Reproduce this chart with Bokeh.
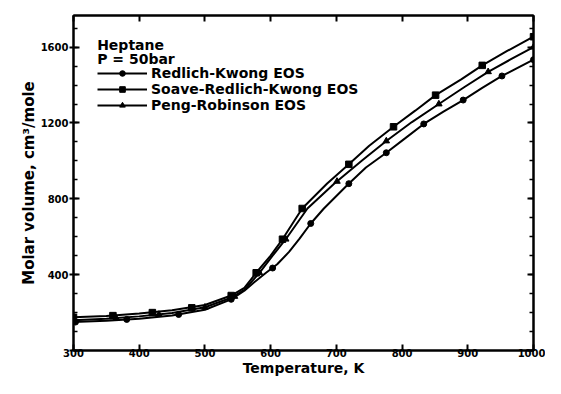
from bokeh.plotting import figure
from bokeh.models import (LinearAxis, SingleIntervalTicker, Range1d, Legend,
                          LegendItem, Label)
from bokeh.embed import file_html
from bokeh.resources import INLINE

# ---- data ----
# Soave-Redlich-Kwong (top curve at high T)
srk_T = [300, 350, 400, 450, 500, 540, 560, 578, 600, 618, 648, 686, 719, 750,
         787, 820, 851, 890, 922, 960, 1000]
srk_V = [175, 182, 195, 212, 240, 290, 330, 410, 500, 587, 749, 881, 982, 1080,
         1180, 1265, 1347, 1430, 1504, 1580, 1655]
srk_mT = [300, 360, 420, 480, 540, 578, 618, 648, 719, 787, 851, 922, 1000]
srk_mV = [175, 184, 200, 225, 290, 410, 587, 749, 982, 1180, 1347, 1504, 1655]

# Peng-Robinson (middle curve)
pr_T = [300, 350, 400, 450, 500, 540, 560, 583, 603, 623, 656, 697, 740, 776,
        815, 856, 895, 931, 965, 1000]
pr_V = [160, 168, 180, 198, 228, 278, 320, 410, 500, 587, 749, 881, 1005, 1105,
        1205, 1300, 1390, 1470, 1535, 1600]
pr_mT = [300, 365, 430, 500, 545, 583, 623, 701, 776, 856, 931, 1000]
pr_mV = [160, 170, 190, 228, 285, 410, 587, 892, 1105, 1300, 1470, 1600]

# Redlich-Kwong (lower curve at high T)
rk_T = [300, 350, 400, 450, 500, 540, 560, 575, 593, 610, 628, 644, 661, 681,
        716, 745, 776, 805, 833, 863, 893, 922, 952, 1000]
rk_V = [150, 157, 168, 185, 215, 270, 315, 360, 410, 455, 520, 590, 670, 749,
        870, 965, 1043, 1120, 1195, 1260, 1321, 1385, 1448, 1534]
rk_mT = [303, 381, 460, 540, 603, 661, 719, 776, 833, 893, 952, 1000]
rk_mV = [150, 164, 190, 270, 435, 670, 880, 1043, 1195, 1321, 1448, 1534]

x_ticks_interval = 100
y_ticks_interval = 400

FONT = "DejaVu Sans"

p = figure(width=545, height=378, output_backend="svg", toolbar_location=None,
           x_range=Range1d(300, 1000), y_range=Range1d(0, 1767),
           min_border_left=73, min_border_right=12, min_border_top=15,
           min_border_bottom=25, x_axis_type=None, y_axis_type=None)
p.outline_line_color = "black"
p.outline_line_width = 2
p.xgrid.visible = False
p.ygrid.visible = False
p.background_fill_color = "white"
p.border_fill_color = "white"


def style_axis(ax, show_labels):
    ax.axis_line_color = "black"
    ax.axis_line_width = 2
    ax.major_tick_line_width = 2
    ax.minor_tick_line_width = 1.5
    ax.major_tick_in = 6
    ax.major_tick_out = 0
    ax.minor_tick_in = 4
    ax.minor_tick_out = 0
    ax.major_label_standoff = 0
    if show_labels:
        ax.major_label_text_font = FONT
        ax.major_label_text_font_style = "bold"
        ax.major_label_text_font_size = "10px"
        ax.major_label_text_color = "black"
        ax.axis_label_text_font = FONT
        ax.axis_label_text_font_style = "bold"
        ax.axis_label_text_font_size = "14px"
        ax.axis_label_text_color = "black"
        ax.axis_label_standoff = 0
    else:
        ax.major_label_text_font_size = "0px"
        ax.major_label_text_alpha = 0


xb = LinearAxis(ticker=SingleIntervalTicker(interval=x_ticks_interval, num_minor_ticks=0),
                axis_label="Temperature, K")
style_axis(xb, True)
xb.major_label_standoff = -2
p.add_layout(xb, "below")
xt = LinearAxis(ticker=SingleIntervalTicker(interval=x_ticks_interval, num_minor_ticks=0))
style_axis(xt, False)
p.add_layout(xt, "above")

yl = LinearAxis(ticker=SingleIntervalTicker(interval=y_ticks_interval, num_minor_ticks=4),
                axis_label="Molar volume, cm³/mole")
style_axis(yl, True)
yl.major_tick_out = 4
yl.major_label_overrides = {0: ""}
yl.major_label_standoff = 1
yl.axis_label_text_font_size = "15px"
p.add_layout(yl, "left")
yr = LinearAxis(ticker=SingleIntervalTicker(interval=y_ticks_interval, num_minor_ticks=4))
style_axis(yr, False)
p.add_layout(yr, "right")

# curves
l_rk = p.line(rk_T, rk_V, line_color="black", line_width=2)
m_rk = p.scatter(rk_mT, rk_mV, marker="circle", size=6, color="black")
l_srk = p.line(srk_T, srk_V, line_color="black", line_width=2)
m_srk = p.scatter(srk_mT, srk_mV, marker="square", size=6.5, color="black")
l_pr = p.line(pr_T, pr_V, line_color="black", line_width=2)
m_pr = p.scatter(pr_mT, pr_mV, marker="triangle", size=6.5, color="black")

legend = Legend(items=[
    LegendItem(label="Redlich-Kwong EOS", renderers=[l_rk, m_rk]),
    LegendItem(label="Soave-Redlich-Kwong EOS", renderers=[l_srk, m_srk]),
    LegendItem(label="Peng-Robinson EOS", renderers=[l_pr, m_pr]),
], location=(24, 237))
legend.background_fill_alpha = 0
legend.border_line_alpha = 0
legend.padding = 0
legend.margin = 0
legend.spacing = -2
legend.glyph_width = 50
legend.glyph_height = 14
legend.label_height = 14
legend.label_standoff = 4
legend.label_text_font = FONT
legend.label_text_font_style = "bold"
legend.label_text_font_size = "14px"
legend.label_text_color = "black"
p.add_layout(legend, "center")

for txt, yv in [("Heptane", 1612), ("P = 50bar", 1539)]:
    p.add_layout(Label(x=336, y=yv, text=txt, text_font=FONT,
                       text_font_style="bold", text_font_size="14px",
                       text_baseline="middle", text_color="black"))

open("out.html", "w").write(file_html(p, INLINE))
